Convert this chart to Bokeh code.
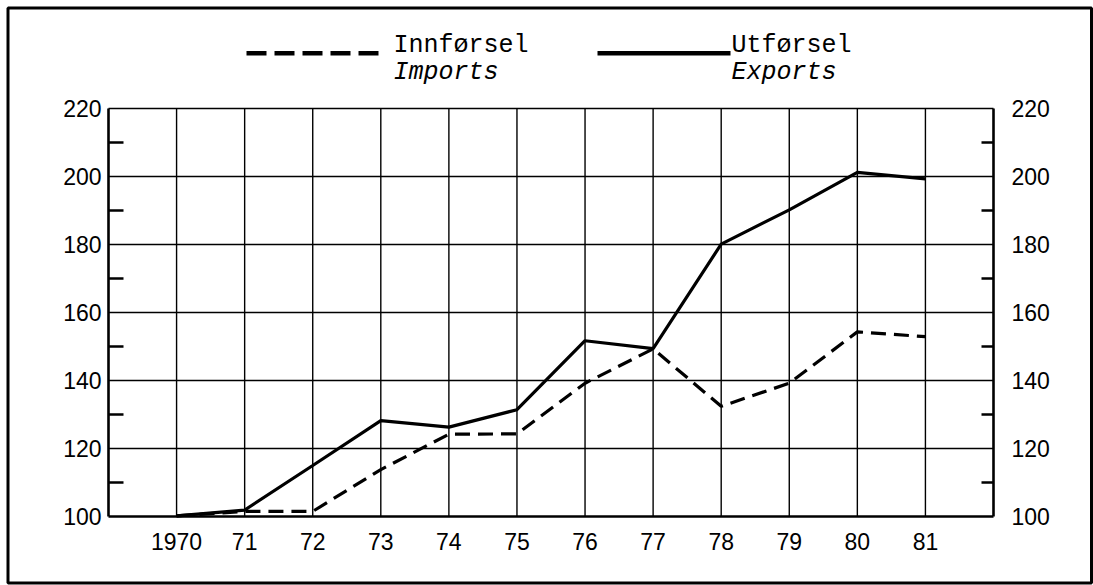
from bokeh.plotting import figure
from bokeh.models import Range1d, FixedTicker, LinearAxis
from bokeh.core.properties import value
from bokeh.embed import file_html
from bokeh.resources import INLINE

# ---- data -------------------------------------------------------------
years = [1970, 1971, 1972, 1973, 1974, 1975, 1976, 1977, 1978, 1979, 1980, 1981]
year_labels = ["1970", "71", "72", "73", "74", "75", "76", "77", "78", "79", "80", "81"]
exports = [100.2, 101.9, 115.0, 128.2, 126.3, 131.4, 151.7, 149.4, 180.1, 190.2, 201.2, 199.3]
imports = [100.2, 101.5, 101.5, 113.8, 124.2, 124.3, 139.2, 149.3, 132.4, 139.2, 154.3, 152.9]
y_major = [100, 120, 140, 160, 180, 200, 220]
y_minor = [110, 130, 150, 170, 190, 210]
legend_top = ["Innførsel", "Utførsel"]
legend_bottom = ["Imports", "Exports"]

# ---- geometry -----------------------------------------------------------
W, H = 1093, 585
BL, BR, BT, BB = 108, 100, 108, 69      # offsets of the inner box in the canvas
X0, X1, Y0, Y1 = 1969, 1982, 100, 220   # inner box in data units
SX = (W - BL - BR) / (X1 - X0)
SY = (H - BT - BB) / (Y1 - Y0)
XS, XE = X0 - BL / SX, X1 + BR / SX
YS, YE = Y0 - BB / SY, Y1 + BT / SY


def dx(px):  # canvas pixel -> data x
    return XS + px / SX


def dy(py):  # canvas pixel -> data y
    return YE - py / SY


p = figure(width=W, height=H, output_backend="svg", toolbar_location=None,
           title=None, x_range=Range1d(XS, XE), y_range=Range1d(YS, YE),
           x_axis_type=None, y_axis_type=None, min_border=0,
           background_fill_color="white", border_fill_color="white")
p.outline_line_color = None
p.grid.visible = False

FONT = "Liberation Sans"
FS = "23px"

# outer frame
p.quad(left=dx(7.5), right=dx(1091), top=dy(7.5), bottom=dy(582.5),
       fill_color=None, line_color="black", line_width=3)

# grid lines limited to the inner box
n_x, n_y = len(years), len(y_major) - 1
p.segment(x0=years, y0=[Y0] * n_x, x1=years, y1=[Y1] * n_x,
          line_color="black", line_width=1.4)
p.segment(x0=[X0] * n_y, y0=y_major[1:], x1=[X1] * n_y, y1=y_major[1:],
          line_color="black", line_width=1.4)

# bottom axis
xa = LinearAxis(fixed_location=Y0, bounds=(X0, X1))
xa.ticker = FixedTicker(ticks=years, minor_ticks=[])
xa.major_label_overrides = {y: l for y, l in zip(years, year_labels)}
xa.major_tick_in = 0
xa.major_tick_out = 0
xa.minor_tick_in = 0
xa.minor_tick_out = 0
xa.axis_line_width = 2.6
xa.axis_line_color = "black"
xa.major_label_standoff = 16
xa.major_label_text_font = FONT
xa.major_label_text_font_size = FS
xa.major_label_text_color = "black"
p.add_layout(xa, "below")

# left / right axes
for side, loc, standoff, minor_in in (("left", X0, 7, 15), ("right", X1, 18, 12)):
    ax = LinearAxis(fixed_location=loc, bounds=(Y0, Y1))
    ax.ticker = FixedTicker(ticks=y_major, minor_ticks=y_minor)
    ax.major_tick_in = 0
    ax.major_tick_out = 0
    ax.minor_tick_in = minor_in
    ax.minor_tick_out = 0
    ax.minor_tick_line_width = 2.4
    ax.minor_tick_line_color = "black"
    ax.axis_line_width = 2.6
    ax.axis_line_color = "black"
    ax.major_label_standoff = standoff
    ax.major_label_text_font = FONT
    ax.major_label_text_font_size = FS
    ax.major_label_text_color = "black"
    p.add_layout(ax, side)

# data lines
p.line(years, exports, line_color="black", line_width=3.2)
p.line(years, imports, line_color="black", line_width=3.2, line_dash="15 8")

# legend
LFONT = value("Liberation Mono")
LFS = value("25px")
ly = dy(52.7)
p.line([dx(246), dx(384)], [ly, ly], line_color="black", line_width=4.5, line_dash="20 8")
p.line([dx(597), dx(730)], [ly, ly], line_color="black", line_width=4.5)
p.text(x=[dx(393), dx(731)], y=[dy(45), dy(45)], text=legend_top, text_font=LFONT,
       text_font_size=LFS, text_color="black", text_baseline="alphabetic")
p.text(x=[dx(393), dx(731)], y=[dy(72), dy(72)], text=legend_bottom, text_font=LFONT,
       text_font_size=LFS, text_font_style="italic", text_color="black",
       text_baseline="alphabetic")

open("out.html", "w").write(file_html(p, INLINE))
